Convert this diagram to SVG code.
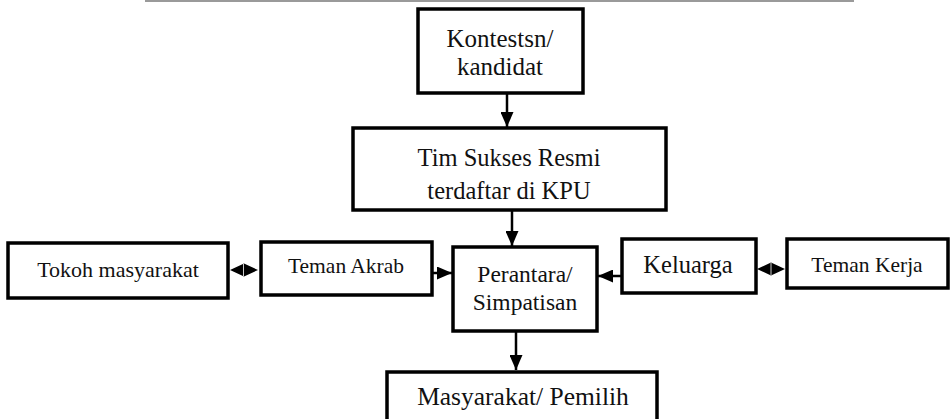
<svg xmlns="http://www.w3.org/2000/svg" width="952" height="419" viewBox="0 0 952 419">
<style>
.box{fill:#fff;stroke:#000;stroke-width:3.5}
.t{font-family:"Liberation Serif","Times New Roman",serif;fill:#111;text-anchor:middle}
.c{stroke:#000;stroke-width:2.5;fill:none}
</style>
<defs>
<marker id="ah" markerUnits="userSpaceOnUse" viewBox="0 0 15 13" markerWidth="15" markerHeight="13" refX="15" refY="6.5" orient="auto">
<path d="M0,0L15,6.5L0,13z" fill="#000"/>
</marker>
</defs>
<rect width="952" height="419" fill="#fff"/>
<line x1="145" y1="1" x2="854" y2="1" stroke="#9a9a9a" stroke-width="2"/>
<g id="kontestan">
<rect class="box" x="418" y="9" width="165" height="84"/>
<text class="t" font-size="25" x="500" y="47">Kontestsn/</text>
<text class="t" font-size="25" x="500" y="75">kandidat</text>
</g>
<g id="timsukses">
<rect class="box" x="353" y="128" width="313" height="82"/>
<text class="t" font-size="24.5" x="509" y="166">Tim Sukses Resmi</text>
<text class="t" font-size="24.5" x="509" y="199">terdaftar di KPU</text>
</g>
<g id="tokoh">
<rect class="box" x="8" y="243" width="220" height="55"/>
<text class="t" font-size="22" x="118" y="277">Tokoh masyarakat</text>
</g>
<g id="temanakrab">
<rect class="box" x="261" y="242" width="171" height="53"/>
<text class="t" font-size="21.5" x="346" y="273">Teman Akrab</text>
</g>
<g id="perantara">
<rect class="box" x="453" y="247" width="144" height="84"/>
<text class="t" font-size="23.5" x="525" y="282">Perantara/</text>
<text class="t" font-size="23.5" x="525" y="310">Simpatisan</text>
</g>
<g id="keluarga">
<rect class="box" x="622" y="239" width="134" height="54"/>
<text class="t" font-size="24.5" x="688" y="273">Keluarga</text>
</g>
<g id="temankerja">
<rect class="box" x="787" y="239" width="161" height="49"/>
<text class="t" font-size="21.5" x="867" y="272">Teman Kerja</text>
</g>
<g id="masyarakat">
<rect class="box" x="387" y="372" width="270" height="60"/>
<text class="t" font-size="25.5" x="523" y="405">Masyarakat/ Pemilih</text>
</g>
<g id="connectors">
<line class="c" x1="507" y1="93" x2="507" y2="127" marker-end="url(#ah)"/>
<line class="c" x1="512" y1="210" x2="512" y2="246" marker-end="url(#ah)"/>
<line class="c" x1="432" y1="273" x2="452" y2="273" marker-end="url(#ah)"/>
<line class="c" x1="622" y1="276" x2="598" y2="276" marker-end="url(#ah)"/>
<line class="c" x1="516" y1="331" x2="516" y2="370" marker-end="url(#ah)"/>
<path d="M230,270L244,263.5L244,276.5z M258,270L244,263.5L244,276.5z" fill="#000"/>
<line x1="243.5" y1="264" x2="243.5" y2="276" stroke="#fff" stroke-width="0.8"/>
<path d="M757,269L771,262.5L771,275.5z M785,269L771,262.5L771,275.5z" fill="#000"/>
<line x1="771" y1="263" x2="771" y2="275" stroke="#fff" stroke-width="0.8"/>
</g>
</svg>
